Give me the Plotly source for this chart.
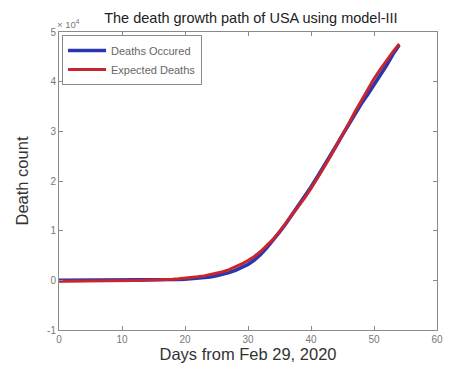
import plotly.graph_objects as go

# Days since Feb 29, 2020
days = list(range(0, 55))

# Cumulative deaths, in units of 10^4
deaths_occured = [
    0.000, 0.000, 0.000, 0.000, 0.000, 0.000, 0.000, 0.000, 0.001, 0.001,
    0.001, 0.002, 0.002, 0.003, 0.004, 0.005, 0.006, 0.008, 0.011, 0.016,
    0.022, 0.030, 0.040, 0.053, 0.070, 0.090, 0.120, 0.155, 0.200, 0.255,
    0.320, 0.410, 0.520, 0.660, 0.810, 0.970, 1.140, 1.320, 1.500, 1.690,
    1.880, 2.080, 2.280, 2.490, 2.710, 2.930, 3.150, 3.360, 3.560, 3.740,
    3.930, 4.120, 4.330, 4.550, 4.740,
]
expected_deaths = [
    -0.020, -0.020, -0.020, -0.020, -0.020, -0.018, -0.016, -0.015, -0.013, -0.011,
    -0.009, -0.007, -0.005, -0.002, 0.000, 0.004, 0.009, 0.015, 0.022, 0.031,
    0.042, 0.055, 0.071, 0.090, 0.113, 0.140, 0.172, 0.215, 0.270, 0.330,
    0.400, 0.480, 0.580, 0.700, 0.830, 0.980, 1.150, 1.310, 1.480, 1.660,
    1.850, 2.050, 2.260, 2.480, 2.700, 2.930, 3.160, 3.400, 3.630, 3.850,
    4.060, 4.250, 4.430, 4.600, 4.760,
]

x_ticks = [0, 10, 20, 30, 40, 50, 60]
y_ticks = [-1, 0, 1, 2, 3, 4, 5]

scale = 1e4
y_occ = [v * scale for v in deaths_occured]
y_exp = [v * scale for v in expected_deaths]

FONT = "Arial, Liberation Sans"

fig = go.Figure()
fig.add_trace(go.Scatter(
    x=days, y=y_occ, mode="lines", name="Deaths Occured",
    line=dict(color="#2a36b0", width=3.6),
))
fig.add_trace(go.Scatter(
    x=days, y=y_exp, mode="lines", name="Expected Deaths",
    line=dict(color="#c8262c", width=3.0),
))

axis_common = dict(
    showgrid=False, zeroline=False, showline=True, mirror="ticks",
    linecolor="#8a8a8a", linewidth=1, ticks="inside", ticklen=4,
    tickcolor="#8a8a8a", tickfont=dict(family=FONT, size=10, color="#777777"),
)

fig.update_layout(
    width=450, height=367,
    margin=dict(l=59, r=7, t=32, b=34),
    paper_bgcolor="white", plot_bgcolor="white",
    title=dict(
        text="The death growth path of USA using model-III",
        x=0.5575, xanchor="center", y=0.952, yanchor="middle",
        font=dict(family=FONT, size=14.5, color="#222222"),
    ),
    xaxis=dict(
        range=[0, 60], tickvals=x_ticks, ticktext=[str(t) for t in x_ticks],
        title=dict(text="Days from Feb 29, 2020", standoff=3,
                   font=dict(family=FONT, size=16.5, color="#333333")),
        **axis_common,
    ),
    yaxis=dict(
        range=[-1 * scale, 5 * scale], tickvals=[t * scale for t in y_ticks],
        ticktext=[str(t) for t in y_ticks],
        title=dict(text="Death count", standoff=14,
                   font=dict(family=FONT, size=16.5, color="#333333")),
        **axis_common,
    ),
    legend=dict(
        x=0.008, y=0.99, xanchor="left", yanchor="top",
        bordercolor="#8a8a8a", borderwidth=1, bgcolor="white",
        font=dict(family=FONT, size=11, color="#666666"),
        tracegroupgap=0, itemwidth=38,
    ),
    annotations=[dict(
        text="× 10<sup>4</sup>", xref="paper", yref="paper",
        x=-0.01, y=1.0, xanchor="left", yanchor="bottom", showarrow=False,
        font=dict(family=FONT, size=9.5, color="#777777"),
    )],
)

fig.write_html("out.html")
